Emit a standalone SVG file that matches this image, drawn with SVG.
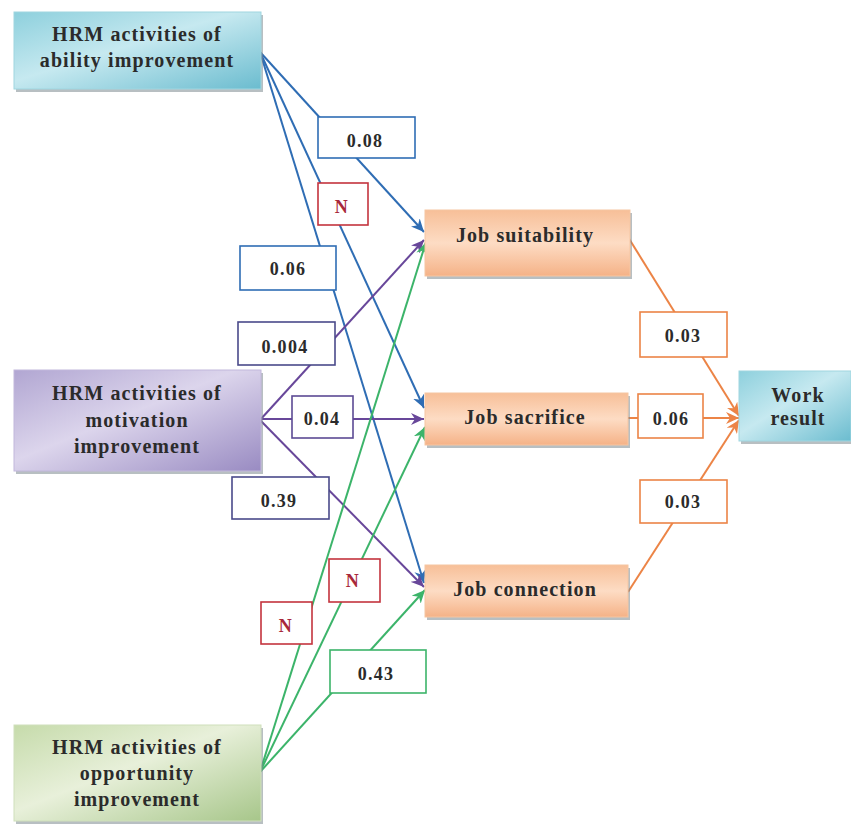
<svg xmlns="http://www.w3.org/2000/svg" width="851" height="824" viewBox="0 0 851 824">
<style>
.nt{font-family:"Liberation Serif","Times New Roman",serif;font-weight:bold;font-size:20px;fill:#2b2b2b;text-anchor:middle;letter-spacing:1.1px}
.lt{font-family:"Liberation Serif","Times New Roman",serif;font-weight:bold;font-size:18px;fill:#2b2b2b;text-anchor:middle;letter-spacing:1.3px}
.nr{fill:#a8283a}
.lb{fill:#ffffff;stroke-width:1.6}
.sh{fill:#7d8a8f;opacity:0.55}
.c{fill:none;stroke-width:2}
.bl{stroke:#2f6db4}
.pu{stroke:#68479a}
.gr{stroke:#3cb46a}
.or{stroke:#ec8446}
</style>
<defs>
<linearGradient id="gBlue" x1="0" y1="0" x2="1" y2="1">
<stop offset="0" stop-color="#8ed0dd"/><stop offset="0.45" stop-color="#c6e9f0"/><stop offset="1" stop-color="#6bbccf"/>
</linearGradient>
<linearGradient id="gPurple" x1="0" y1="0" x2="1" y2="1">
<stop offset="0" stop-color="#b1a6d2"/><stop offset="0.45" stop-color="#dcd5ec"/><stop offset="1" stop-color="#998bc2"/>
</linearGradient>
<linearGradient id="gGreen" x1="0" y1="0" x2="1" y2="1">
<stop offset="0" stop-color="#c6dbab"/><stop offset="0.45" stop-color="#e8f0da"/><stop offset="1" stop-color="#a7c68a"/>
</linearGradient>
<linearGradient id="gOrange" x1="0" y1="0" x2="0" y2="1">
<stop offset="0" stop-color="#f7bf98"/><stop offset="0.5" stop-color="#fddcc4"/><stop offset="1" stop-color="#f5b287"/>
</linearGradient>
<marker id="aB" markerUnits="userSpaceOnUse" markerWidth="14" markerHeight="12" refX="13" refY="6" orient="auto"><path d="M0,0 L13,6 L0,12 L4,6 Z" fill="#2f6db4"/></marker>
<marker id="aP" markerUnits="userSpaceOnUse" markerWidth="14" markerHeight="12" refX="13" refY="6" orient="auto"><path d="M0,0 L13,6 L0,12 L4,6 Z" fill="#68479a"/></marker>
<marker id="aG" markerUnits="userSpaceOnUse" markerWidth="14" markerHeight="12" refX="13" refY="6" orient="auto"><path d="M0,0 L13,6 L0,12 L4,6 Z" fill="#3cb46a"/></marker>
<marker id="aO" markerUnits="userSpaceOnUse" markerWidth="14" markerHeight="12" refX="13" refY="6" orient="auto"><path d="M0,0 L13,6 L0,12 L4,6 Z" fill="#ec8446"/></marker>
</defs>
<rect width="851" height="824" fill="#ffffff"/>

<g id="connectors">
<line class="c bl" x1="260" y1="52" x2="424" y2="232" marker-end="url(#aB)"/>
<line class="c bl" x1="260" y1="52" x2="424" y2="408" marker-end="url(#aB)"/>
<line class="c bl" x1="260" y1="52" x2="424" y2="583" marker-end="url(#aB)"/>
<line class="c pu" x1="260" y1="420" x2="424" y2="240" marker-end="url(#aP)"/>
<line class="c pu" x1="260" y1="419" x2="424" y2="419" marker-end="url(#aP)"/>
<line class="c pu" x1="260" y1="420" x2="424" y2="587" marker-end="url(#aP)"/>
<line class="c gr" x1="260" y1="772" x2="426" y2="242" marker-end="url(#aG)"/>
<line class="c gr" x1="260" y1="772" x2="425" y2="427" marker-end="url(#aG)"/>
<line class="c gr" x1="260" y1="772" x2="425" y2="590" marker-end="url(#aG)"/>
<line class="c or" x1="628" y1="237" x2="739" y2="416" marker-end="url(#aO)"/>
<line class="c or" x1="628" y1="418" x2="739" y2="418" marker-end="url(#aO)"/>
<line class="c or" x1="628" y1="592" x2="739" y2="420" marker-end="url(#aO)"/>
</g>

<g id="labels">
<g id="l-008"><rect class="lb" x="318" y="117" width="97" height="41" stroke="#2f6db4"/><text class="lt" x="365" y="147">0.08</text></g>
<g id="l-n1"><rect class="lb" x="318" y="183" width="50" height="42" stroke="#c4343e"/><text class="lt nr" x="342" y="213">N</text></g>
<g id="l-006"><rect class="lb" x="240" y="246" width="96" height="44" stroke="#2f6db4"/><text class="lt" x="288" y="275">0.06</text></g>
<g id="l-0004"><rect class="lb" x="238" y="322" width="97" height="43" stroke="#4a4a8a"/><text class="lt" x="285" y="353">0.004</text></g>
<g id="l-004"><rect class="lb" x="292" y="396" width="61" height="42" stroke="#5c4a94"/><text class="lt" x="322" y="425">0.04</text></g>
<g id="l-039"><rect class="lb" x="232" y="477" width="97" height="42" stroke="#4a4a8a"/><text class="lt" x="279" y="507">0.39</text></g>
<g id="l-n2"><rect class="lb" x="329" y="559" width="51" height="43" stroke="#c4343e"/><text class="lt nr" x="353" y="587">N</text></g>
<g id="l-n3"><rect class="lb" x="261" y="602" width="51" height="42" stroke="#c4343e"/><text class="lt nr" x="286" y="632">N</text></g>
<g id="l-043"><rect class="lb" x="330" y="650" width="96" height="43" stroke="#3cb46a"/><text class="lt" x="376" y="680">0.43</text></g>
<g id="l-003a"><rect class="lb" x="640" y="312" width="87" height="45" stroke="#ec8446"/><text class="lt" x="683" y="342">0.03</text></g>
<g id="l-006b"><rect class="lb" x="638" y="394" width="65" height="44" stroke="#ec8446"/><text class="lt" x="671" y="425">0.06</text></g>
<g id="l-003b"><rect class="lb" x="640" y="480" width="87" height="43" stroke="#ec8446"/><text class="lt" x="683" y="508">0.03</text></g>
</g>

<g id="n-ability">
<rect class="sh" x="16" y="15" width="247" height="77"/>
<rect x="14" y="12" width="247" height="77" fill="url(#gBlue)" stroke="#9fd6e0" stroke-width="1"/>
<text class="nt" x="137" y="41">HRM activities of</text>
<text class="nt" x="137" y="67">ability improvement</text>
</g>
<g id="n-motivation">
<rect class="sh" x="16" y="373" width="247" height="101"/>
<rect x="14" y="370" width="247" height="101" fill="url(#gPurple)" stroke="#c2b8dc" stroke-width="1"/>
<text class="nt" x="137" y="400">HRM activities of</text>
<text class="nt" x="137" y="427">motivation</text>
<text class="nt" x="137" y="453">improvement</text>
</g>
<g id="n-opportunity">
<rect class="sh" x="16" y="728" width="247" height="96"/>
<rect x="14" y="725" width="247" height="96" fill="url(#gGreen)" stroke="#cfe0bb" stroke-width="1"/>
<text class="nt" x="137" y="754">HRM activities of</text>
<text class="nt" x="137" y="780">opportunity</text>
<text class="nt" x="137" y="806">improvement</text>
</g>
<g id="n-suitability">
<rect class="sh" x="427" y="213" width="205" height="66"/>
<rect x="425" y="210" width="205" height="66" fill="url(#gOrange)" stroke="#f6c6a2" stroke-width="1"/>
<text class="nt" x="525" y="242">Job suitability</text>
</g>
<g id="n-sacrifice">
<rect class="sh" x="427" y="396" width="203" height="52"/>
<rect x="425" y="393" width="203" height="52" fill="url(#gOrange)" stroke="#f6c6a2" stroke-width="1"/>
<text class="nt" x="525" y="424">Job sacrifice</text>
</g>
<g id="n-connection">
<rect class="sh" x="427" y="568" width="203" height="52"/>
<rect x="425" y="565" width="203" height="52" fill="url(#gOrange)" stroke="#f6c6a2" stroke-width="1"/>
<text class="nt" x="525" y="596">Job connection</text>
</g>
<g id="n-work">
<rect class="sh" x="741" y="374" width="112" height="70"/>
<rect x="739" y="371" width="112" height="70" fill="url(#gBlue)" stroke="#9fd6e0" stroke-width="1"/>
<text class="nt" x="798" y="402">Work</text>
<text class="nt" x="798" y="425">result</text>
</g>
</svg>
